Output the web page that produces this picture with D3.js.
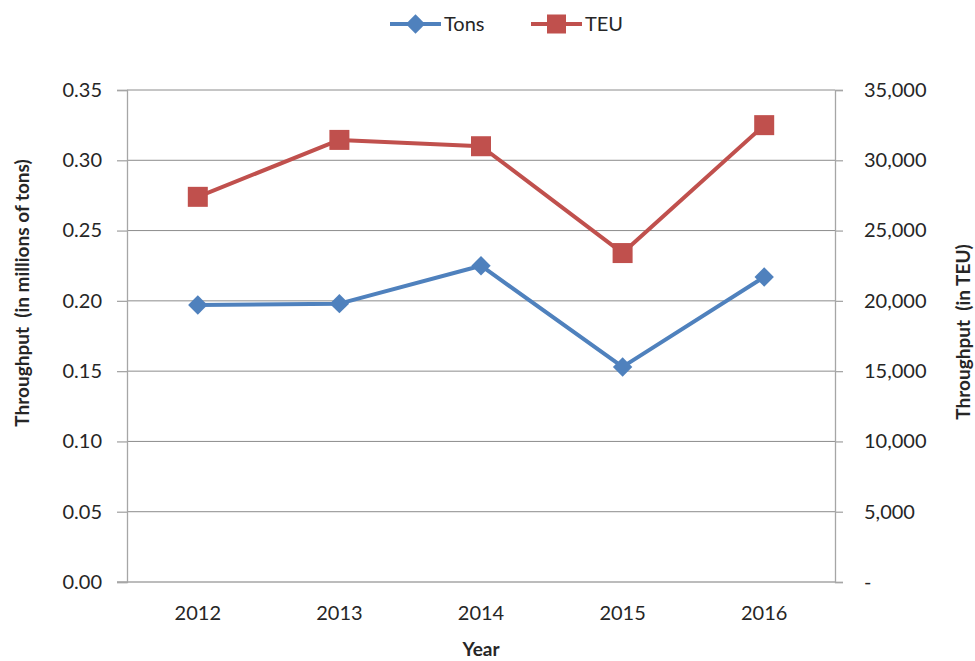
<!DOCTYPE html>
<html>
<head>
<meta charset="utf-8">
<script src="https://cdn.jsdelivr.net/npm/d3@7"></script>
<style>
  body { margin: 0; background: #fff; }
  text { font-family: Lato, "Open Sans", sans-serif; fill: #262626; }
</style>
</head>
<body>
<svg id="chart" width="975" height="661"></svg>
<script>
const years = ['2012', '2013', '2014', '2015', '2016'];
const tons = [0.197, 0.198, 0.225, 0.153, 0.217];
const teu = [27400, 31450, 31000, 23400, 32500];
const leftTicks = [0, 0.05, 0.10, 0.15, 0.20, 0.25, 0.30, 0.35];
const rightTicks = [0, 5000, 10000, 15000, 20000, 25000, 30000, 35000];

const blue = '#4f81bd';
const red = '#c0504d';

const svg = d3.select('#chart');
const margin = { left: 127, right: 835, top: 90, bottom: 582 };

const x = d3.scaleBand()
  .domain(years)
  .range([margin.left, margin.right]);

const yLeft = d3.scaleLinear()
  .domain([0, 0.35])
  .range([margin.bottom, margin.top]);

const yRight = d3.scaleLinear()
  .domain([0, 35000])
  .range([margin.bottom, margin.top]);

// gridlines
svg.append('g')
  .selectAll('line')
  .data(leftTicks.slice(1))
  .join('line')
    .attr('x1', margin.left)
    .attr('x2', margin.right)
    .attr('y1', d => yLeft(d))
    .attr('y2', d => yLeft(d))
    .attr('stroke', '#8c8c8c')
    .attr('stroke-width', 1);

// left axis
const leftAxis = svg.append('g')
  .attr('transform', `translate(${margin.left},0)`)
  .call(d3.axisLeft(yLeft).tickValues(leftTicks).tickFormat(d3.format('.2f')).tickSize(10).tickPadding(15));

// right axis
const rightAxis = svg.append('g')
  .attr('transform', `translate(${margin.right},0)`)
  .call(d3.axisRight(yRight).tickValues(rightTicks)
    .tickFormat(d => d === 0 ? '-' : d3.format(',')(d)).tickSize(8).tickPadding(21));

// bottom axis
const bottomAxis = svg.append('g')
  .attr('transform', `translate(0,${margin.bottom})`)
  .call(d3.axisBottom(x).tickSize(0).tickPadding(24));

[leftAxis, rightAxis, bottomAxis].forEach(g => {
  g.select('.domain').attr('stroke', '#a6a6a6').attr('stroke-width', 1.3);
  g.selectAll('.tick line').attr('stroke', '#a6a6a6').attr('stroke-width', 1.3);
  g.selectAll('.tick text')
    .style('font-family', 'Lato, sans-serif')
    .attr('font-size', 20)
    .attr('fill', '#262626');
});
rightAxis.selectAll('.tick text').attr('text-anchor', 'start');
bottomAxis.select('.domain').attr('d', `M${margin.left - 10},0H${margin.right}`);

// axis titles
svg.append('text')
  .attr('transform', 'translate(29,293) rotate(-90)')
  .attr('text-anchor', 'middle')
  .attr('font-weight', 'bold')
  .attr('font-size', 19)
  .attr('xml:space', 'preserve')
  .text('Throughput  (in millions of tons)');

svg.append('text')
  .attr('transform', 'translate(970,332) rotate(-90)')
  .attr('text-anchor', 'middle')
  .attr('font-weight', 'bold')
  .attr('font-size', 19)
  .attr('xml:space', 'preserve')
  .text('Throughput  (in TEU)');

svg.append('text')
  .attr('x', x('2014') + x.bandwidth() / 2)
  .attr('y', 656)
  .attr('text-anchor', 'middle')
  .attr('font-weight', 'bold')
  .attr('font-size', 19)
  .text('Year');

const cx = d => x(d) + x.bandwidth() / 2;

// TEU series
svg.append('path')
  .datum(teu)
  .attr('fill', 'none')
  .attr('stroke', red)
  .attr('stroke-width', 4)
  .attr('stroke-linejoin', 'round')
  .attr('d', d3.line().x((d, i) => cx(years[i])).y(d => yRight(d)));

svg.append('g')
  .selectAll('rect')
  .data(teu)
  .join('rect')
    .attr('x', (d, i) => cx(years[i]) - 10)
    .attr('y', d => yRight(d) - 10)
    .attr('width', 20)
    .attr('height', 20)
    .attr('fill', red);

// Tons series
svg.append('path')
  .datum(tons)
  .attr('fill', 'none')
  .attr('stroke', blue)
  .attr('stroke-width', 4)
  .attr('stroke-linejoin', 'round')
  .attr('d', d3.line().x((d, i) => cx(years[i])).y(d => yLeft(d)));

const diamond = d3.symbol().type(d3.symbolDiamond2).size(240);
svg.append('g')
  .selectAll('path')
  .data(tons)
  .join('path')
    .attr('transform', (d, i) => `translate(${cx(years[i])},${yLeft(d)})`)
    .attr('d', diamond)
    .attr('fill', blue);

// legend
const legend = svg.append('g').attr('transform', 'translate(0,24)');
const items = [
  { name: 'Tons', color: blue, x: 390, marker: 'diamond' },
  { name: 'TEU', color: red, x: 531, marker: 'square' },
];
items.forEach(it => {
  legend.append('line')
    .attr('x1', it.x).attr('x2', it.x + 51)
    .attr('y1', 0).attr('y2', 0)
    .attr('stroke', it.color)
    .attr('stroke-width', 4);
  if (it.marker === 'diamond') {
    legend.append('path')
      .attr('transform', `translate(${it.x + 25.5},0)`)
      .attr('d', diamond)
      .attr('fill', it.color);
  } else {
    legend.append('rect')
      .attr('x', it.x + 16).attr('y', -9.5)
      .attr('width', 19).attr('height', 19)
      .attr('fill', it.color);
  }
  legend.append('text')
    .attr('x', it.x + 54)
    .attr('y', 7)
    .attr('font-size', 20)
    .text(it.name);
});
</script>
</body>
</html>
